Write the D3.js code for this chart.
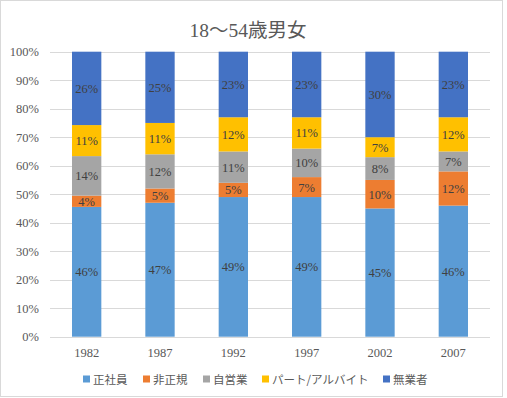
<!DOCTYPE html>
<html><head><meta charset="utf-8">
<script src="https://cdn.jsdelivr.net/npm/d3@7"></script>
<style>body{margin:0;background:#fff}</style>
</head><body>
<svg id="c" width="507" height="398"></svg>
<script>
const years = ["1982","1987","1992","1997","2002","2007"];
const seriesNames = ["正社員","非正規","自営業","パート/アルバイト","無業者"];
const seriesColors = ["#5B9BD5","#ED7D31","#A5A5A5","#FFC000","#4472C4"];
const seishain = [46,47,49,49,45,46];
const hiseiki  = [4,5,5,7,10,12];
const jieigyo  = [14,12,11,10,8,7];
const part     = [11,11,12,11,7,12];
const mugyo    = [26,25,23,23,30,23];
const yTicks = [0,0.1,0.2,0.3,0.4,0.5,0.6,0.7,0.8,0.9,1.0];
const title = "18～54歳男女";

const allSeries = [seishain,hiseiki,jieigyo,part,mugyo];
const rows = years.map((y,i)=>{const r={year:y};seriesNames.forEach((n,k)=>r[n]=allSeries[k][i]);return r;});

const svg = d3.select("#c");
svg.append("rect").attr("x",0.5).attr("y",0.5).attr("width",502).attr("height",396)
  .attr("fill","#fff").attr("stroke","#d9d9d9");

const serif = "'Liberation Serif','DejaVu Serif','Noto Sans CJK JP',serif";
const sans = "'Noto Sans CJK JP','Noto Sans',sans-serif";

svg.append("text").attr("x",248).attr("y",37).attr("text-anchor","middle")
  .attr("font-family",serif).attr("font-size",19.5).attr("fill","#595959").text(title);

const x = d3.scaleBand().domain(years).range([50,490]).paddingInner(0.6).paddingOuter(0.3);
const y = d3.scaleLinear().domain([0,1]).range([336.7,51.7]);

const g = svg.append("g");
g.selectAll("line.grid").data(yTicks).join("line")
  .attr("x1",50).attr("x2",490).attr("y1",d=>Math.round(y(d))+0.5).attr("y2",d=>Math.round(y(d))+0.5)
  .attr("stroke","#d9d9d9").attr("stroke-width",1);

const yAxis = d3.axisLeft(y).tickValues(yTicks).tickFormat(d3.format(".0%")).tickSize(0).tickPadding(0);
const ya = svg.append("g").attr("transform","translate(39,0)").call(yAxis);
ya.select(".domain").remove();
ya.selectAll("text").attr("font-family",serif).attr("font-size",12.5).attr("fill","#595959");

const stack = d3.stack().keys(seriesNames).offset(d3.stackOffsetExpand);
const stacked = stack(rows);

stacked.forEach((s,k)=>{
  const gg = svg.append("g");
  gg.selectAll("rect").data(s).join("rect")
    .attr("x",d=>x(d.data.year)).attr("width",x.bandwidth())
    .attr("y",d=>y(d[1])).attr("height",d=>y(d[0])-y(d[1]))
    .attr("fill",seriesColors[k]);
  gg.selectAll("text").data(s).join("text")
    .attr("x",d=>x(d.data.year)+x.bandwidth()/2)
    .attr("y",d=>(y(d[0])+y(d[1]))/2+4.5)
    .attr("text-anchor","middle").attr("font-family",serif).attr("font-size",12.5)
    .attr("fill","#404040").text(d=>d.data[seriesNames[k]]+"%");
});

const xAxis = d3.axisBottom(x).tickSize(0).tickPadding(0);
const xa = svg.append("g").attr("transform","translate(0,348)").call(xAxis);
xa.select(".domain").remove();
xa.selectAll("text").attr("font-family",serif).attr("font-size",12.5).attr("fill","#595959").attr("dy","0.71em");

const legX = [83,143,203,262,383];
const lg = svg.append("g");
seriesNames.forEach((n,k)=>{
  lg.append("rect").attr("x",legX[k]).attr("y",375.5).attr("width",7).attr("height",7).attr("fill",seriesColors[k]);
  lg.append("text").attr("x",legX[k]+10).attr("y",383.5).attr("font-family",sans).attr("font-size",11.5)
    .attr("fill","#595959").text(n);
});
</script>
</body></html>
